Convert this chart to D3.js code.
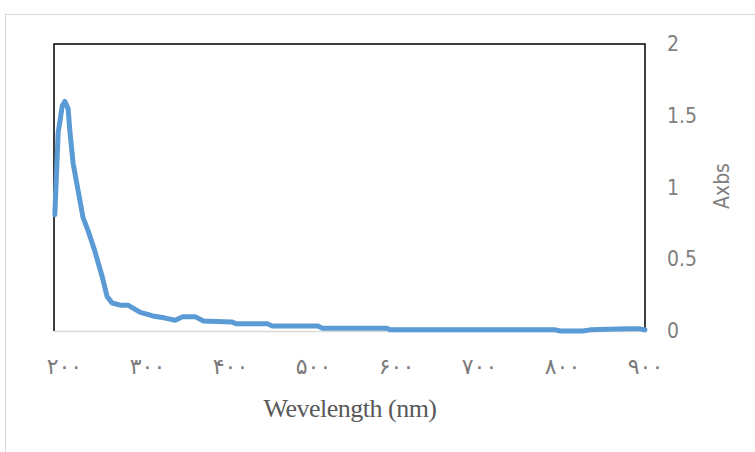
<!DOCTYPE html>
<html>
<head>
<meta charset="utf-8">
<script src="https://cdn.jsdelivr.net/npm/d3@7"></script>
<style>
  html, body { margin: 0; padding: 0; background: #fff; }
  svg { display: block; }
</style>
</head>
<body>
<svg id="chart" width="755" height="452"></svg>
<script>
// ---- data ----
const wavelengths = [189, 193, 198, 201, 205, 207, 211, 217, 223, 229, 237, 246, 252, 258, 268, 277, 292, 307, 322, 334, 343, 358, 368, 402, 408, 445, 451, 506, 511, 589, 593, 792, 798, 825, 834, 880, 894, 900];
const absorbance  = [0.81, 1.38, 1.57, 1.60, 1.55, 1.40, 1.17, 0.98, 0.79, 0.70, 0.56, 0.38, 0.24, 0.195, 0.18, 0.18, 0.13, 0.105, 0.09, 0.075, 0.10, 0.10, 0.07, 0.063, 0.05, 0.05, 0.035, 0.035, 0.02, 0.02, 0.008, 0.008, 0.0, 0.0, 0.008, 0.015, 0.015, 0.008];
const xTicks = [200, 300, 400, 500, 600, 700, 800, 900];
const xTickLabels = ["۲۰۰", "۳۰۰", "۴۰۰", "۵۰۰", "۶۰۰", "۷۰۰", "۸۰۰", "۹۰۰"];
const yTicks = [0, 0.5, 1, 1.5, 2];
const yTickLabels = ["0", "0.5", "1", "1.5", "2"];
const xTitle = "Wevelength (nm)";
const yTitle = "Axbs";

const svg = d3.select("#chart");

// outer chart border
svg.append("rect")
  .attr("x", 5.5).attr("y", 14.5)
  .attr("width", 800).attr("height", 500)
  .attr("fill", "#fff").attr("stroke", "#d9d9d9").attr("stroke-width", 1);

const plot = { left: 54, right: 645, top: 44, bottom: 331 };

const x = d3.scaleLinear().domain([188, 900]).range([plot.left, plot.right]);
const y = d3.scaleLinear().domain([0, 2]).range([plot.bottom, plot.top]);

// bottom axis (gray line) with Persian digit labels
const xAxis = d3.axisBottom(x)
  .tickValues(xTicks)
  .tickSize(0)
  .tickPadding(0)
  .tickFormat((d, i) => xTickLabels[i]);

const gx = svg.append("g")
  .attr("transform", `translate(0,${plot.bottom})`)
  .call(xAxis);
gx.select(".domain").attr("stroke", "#d9d9d9").attr("stroke-width", 1.5);
gx.selectAll("text")
  .attr("dy", null)
  .attr("y", 43)
  .attr("fill", "#7a7a7a")
  .style("font-family", "'DejaVu Sans', sans-serif")
  .style("font-size", "22px")
  .style("letter-spacing", "1px");

// right axis labels
const yAxis = d3.axisRight(y)
  .tickValues(yTicks)
  .tickSize(0)
  .tickPadding(0)
  .tickFormat((d, i) => yTickLabels[i]);

const gy = svg.append("g")
  .attr("transform", `translate(${plot.right + 22},0)`)
  .call(yAxis);
gy.select(".domain").remove();
gy.selectAll("text")
  .attr("fill", "#7f7f7f")
  .style("font-family", "'Liberation Sans Narrow', 'DejaVu Sans Condensed', sans-serif")
  .style("font-size", "21px");

// black frame: left, top, right
svg.append("path")
  .attr("d", `M${plot.left},${plot.bottom}V${plot.top}H${plot.right}V${plot.bottom}`)
  .attr("fill", "none")
  .attr("stroke", "#000")
  .attr("stroke-width", 1.5);

// data line
const line = d3.line()
  .x((d, i) => x(wavelengths[i]))
  .y((d, i) => y(absorbance[i]));

svg.append("path")
  .datum(absorbance)
  .attr("d", line)
  .attr("fill", "none")
  .attr("stroke", "#5b9bd5")
  .attr("stroke-width", 5)
  .attr("stroke-linejoin", "round")
  .attr("stroke-linecap", "round");

// axis titles
svg.append("text")
  .attr("x", 350).attr("y", 417)
  .attr("text-anchor", "middle")
  .attr("fill", "#595959")
  .style("font-family", "'Liberation Serif', 'Times New Roman', serif")
  .style("font-size", "26px")
  .style("letter-spacing", "-0.5px")
  .text(xTitle);

svg.append("text")
  .attr("transform", "translate(729,186) rotate(-90)")
  .attr("text-anchor", "middle")
  .attr("fill", "#7f7f7f")
  .style("font-family", "'Liberation Sans Narrow', 'DejaVu Sans Condensed', sans-serif")
  .style("font-size", "21px")
  .text(yTitle);
</script>
</body>
</html>
